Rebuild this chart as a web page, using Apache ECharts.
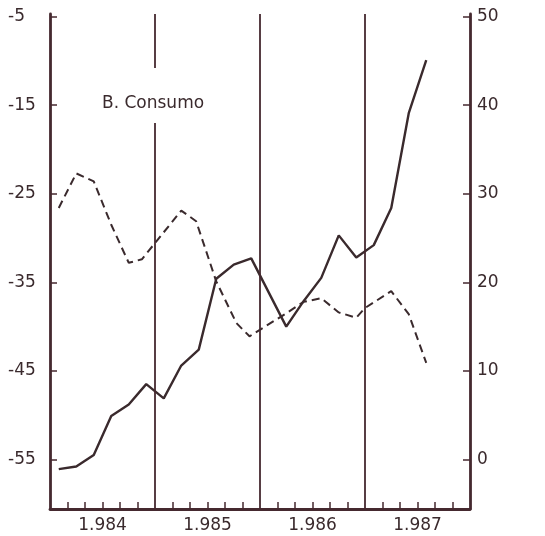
<!DOCTYPE html>
<html>
<head>
<meta charset="utf-8">
<script src="https://cdn.jsdelivr.net/npm/echarts@6/dist/echarts.min.js"></script>
<style>
html,body{margin:0;padding:0;background:#ffffff;}
#chart{width:545px;height:536px;}
</style>
</head>
<body>
<div id="chart"></div>
<script>
// Data (months counted from Jan 1984 = 0)
var yearLabels = ['1.984', '1.985', '1.986', '1.987'];
var yearCenters = [6, 18, 30, 42];
var leftTicks = [-55, -45, -35, -25, -15, -5];
var rightTicks = [0, 10, 20, 30, 40, 50];
var xTicks = [2,4,6,8,10,14,16,18,20,22,26,28,30,32,34,38,40,42,44,46];
var yearLines = [12, 24, 36];

// Solid line (right axis)
var solidMonths = [1,3,5,7,9,11,13,15,17,19,21,23,27,29,31,33,35,37,39,41,43];
var solidValues = [-1.1,-0.8,0.5,4.9,6.2,8.5,6.9,10.6,12.4,20.4,22.0,22.7,15.0,17.9,20.5,25.3,22.8,24.2,28.4,39.1,45.1];

// Dashed line (left axis)
var dashMonths = [1,3,5,7,9,10.5,15,16.7,19,21.3,22.8,27,29,31,33,35,36,39,41,43];
var dashValues = [-26.6,-22.7,-23.6,-28.5,-32.8,-32.4,-26.9,-28.1,-34.9,-39.6,-41.1,-38.5,-37.2,-36.8,-38.4,-39.0,-37.9,-36.0,-38.6,-44.1];

var ink = '#3a2a2d';
var axisInk = '#45292f';
var font = 'DejaVu Sans';

function zip(a, b) { return a.map(function (v, i) { return [v, b[i]]; }); }

var rMin = -5.6, rMax = 50.3;

var chart = echarts.init(document.getElementById('chart'), null, {renderer: 'canvas'});
chart.setOption({
  animation: false,
  backgroundColor: '#ffffff',
  title: {
    text: 'B. Consumo',
    left: 102, top: 95, padding: 0,
    textStyle: {fontFamily: font, fontSize: 17, fontWeight: 'normal', color: ink}
  },
  grid: {left: 50, right: 75, top: 14, bottom: 27},
  xAxis: {
    type: 'value', min: 0, max: 48,
    axisLine: {show: true, onZero: false, lineStyle: {color: axisInk, width: 2.8}},
    axisTick: {show: true, inside: true, length: 7, customValues: xTicks, lineStyle: {color: axisInk, width: 1.5}},
    axisLabel: {
      customValues: yearCenters, margin: 8,
      fontFamily: font, fontSize: 17, color: ink,
      formatter: function (v) { var i = yearCenters.indexOf(v); return i >= 0 ? yearLabels[i] : ''; }
    },
    splitLine: {show: false}
  },
  yAxis: [
    {
      type: 'value', position: 'left', min: rMin - 55, max: rMax - 55,
      axisLine: {show: true, onZero: false, lineStyle: {color: axisInk, width: 2.8}},
      axisTick: {show: true, inside: true, length: 7, customValues: leftTicks, lineStyle: {color: axisInk, width: 1.5}},
      axisLabel: {customValues: leftTicks, margin: 42, align: 'left', fontFamily: font, fontSize: 17, color: ink},
      splitLine: {show: false}
    },
    {
      type: 'value', position: 'right', min: rMin, max: rMax,
      axisLine: {show: true, onZero: false, lineStyle: {color: axisInk, width: 2.8}},
      axisTick: {show: true, inside: true, length: 7, customValues: rightTicks, lineStyle: {color: axisInk, width: 1.5}},
      axisLabel: {customValues: rightTicks, margin: 7, fontFamily: font, fontSize: 17, color: ink},
      splitLine: {show: false}
    }
  ],
  series: [
    {
      type: 'line', yAxisIndex: 1, data: zip(solidMonths, solidValues),
      symbol: 'none', lineStyle: {color: ink, width: 2.4},
      markLine: {
        silent: true, symbol: 'none', label: {show: false},
        lineStyle: {color: axisInk, width: 1.8, type: 'solid'},
        data: [
          [{coord: [yearLines[0], rMin]}, {coord: [yearLines[0], 38]}],
          [{coord: [yearLines[0], 44.2]}, {coord: [yearLines[0], rMax]}],
          {xAxis: yearLines[1]},
          {xAxis: yearLines[2]}
        ]
      }
    },
    {
      type: 'line', yAxisIndex: 0, data: zip(dashMonths, dashValues),
      symbol: 'none', lineStyle: {color: ink, width: 2, type: [8, 5]}
    }
  ]
});
</script>
</body>
</html>
